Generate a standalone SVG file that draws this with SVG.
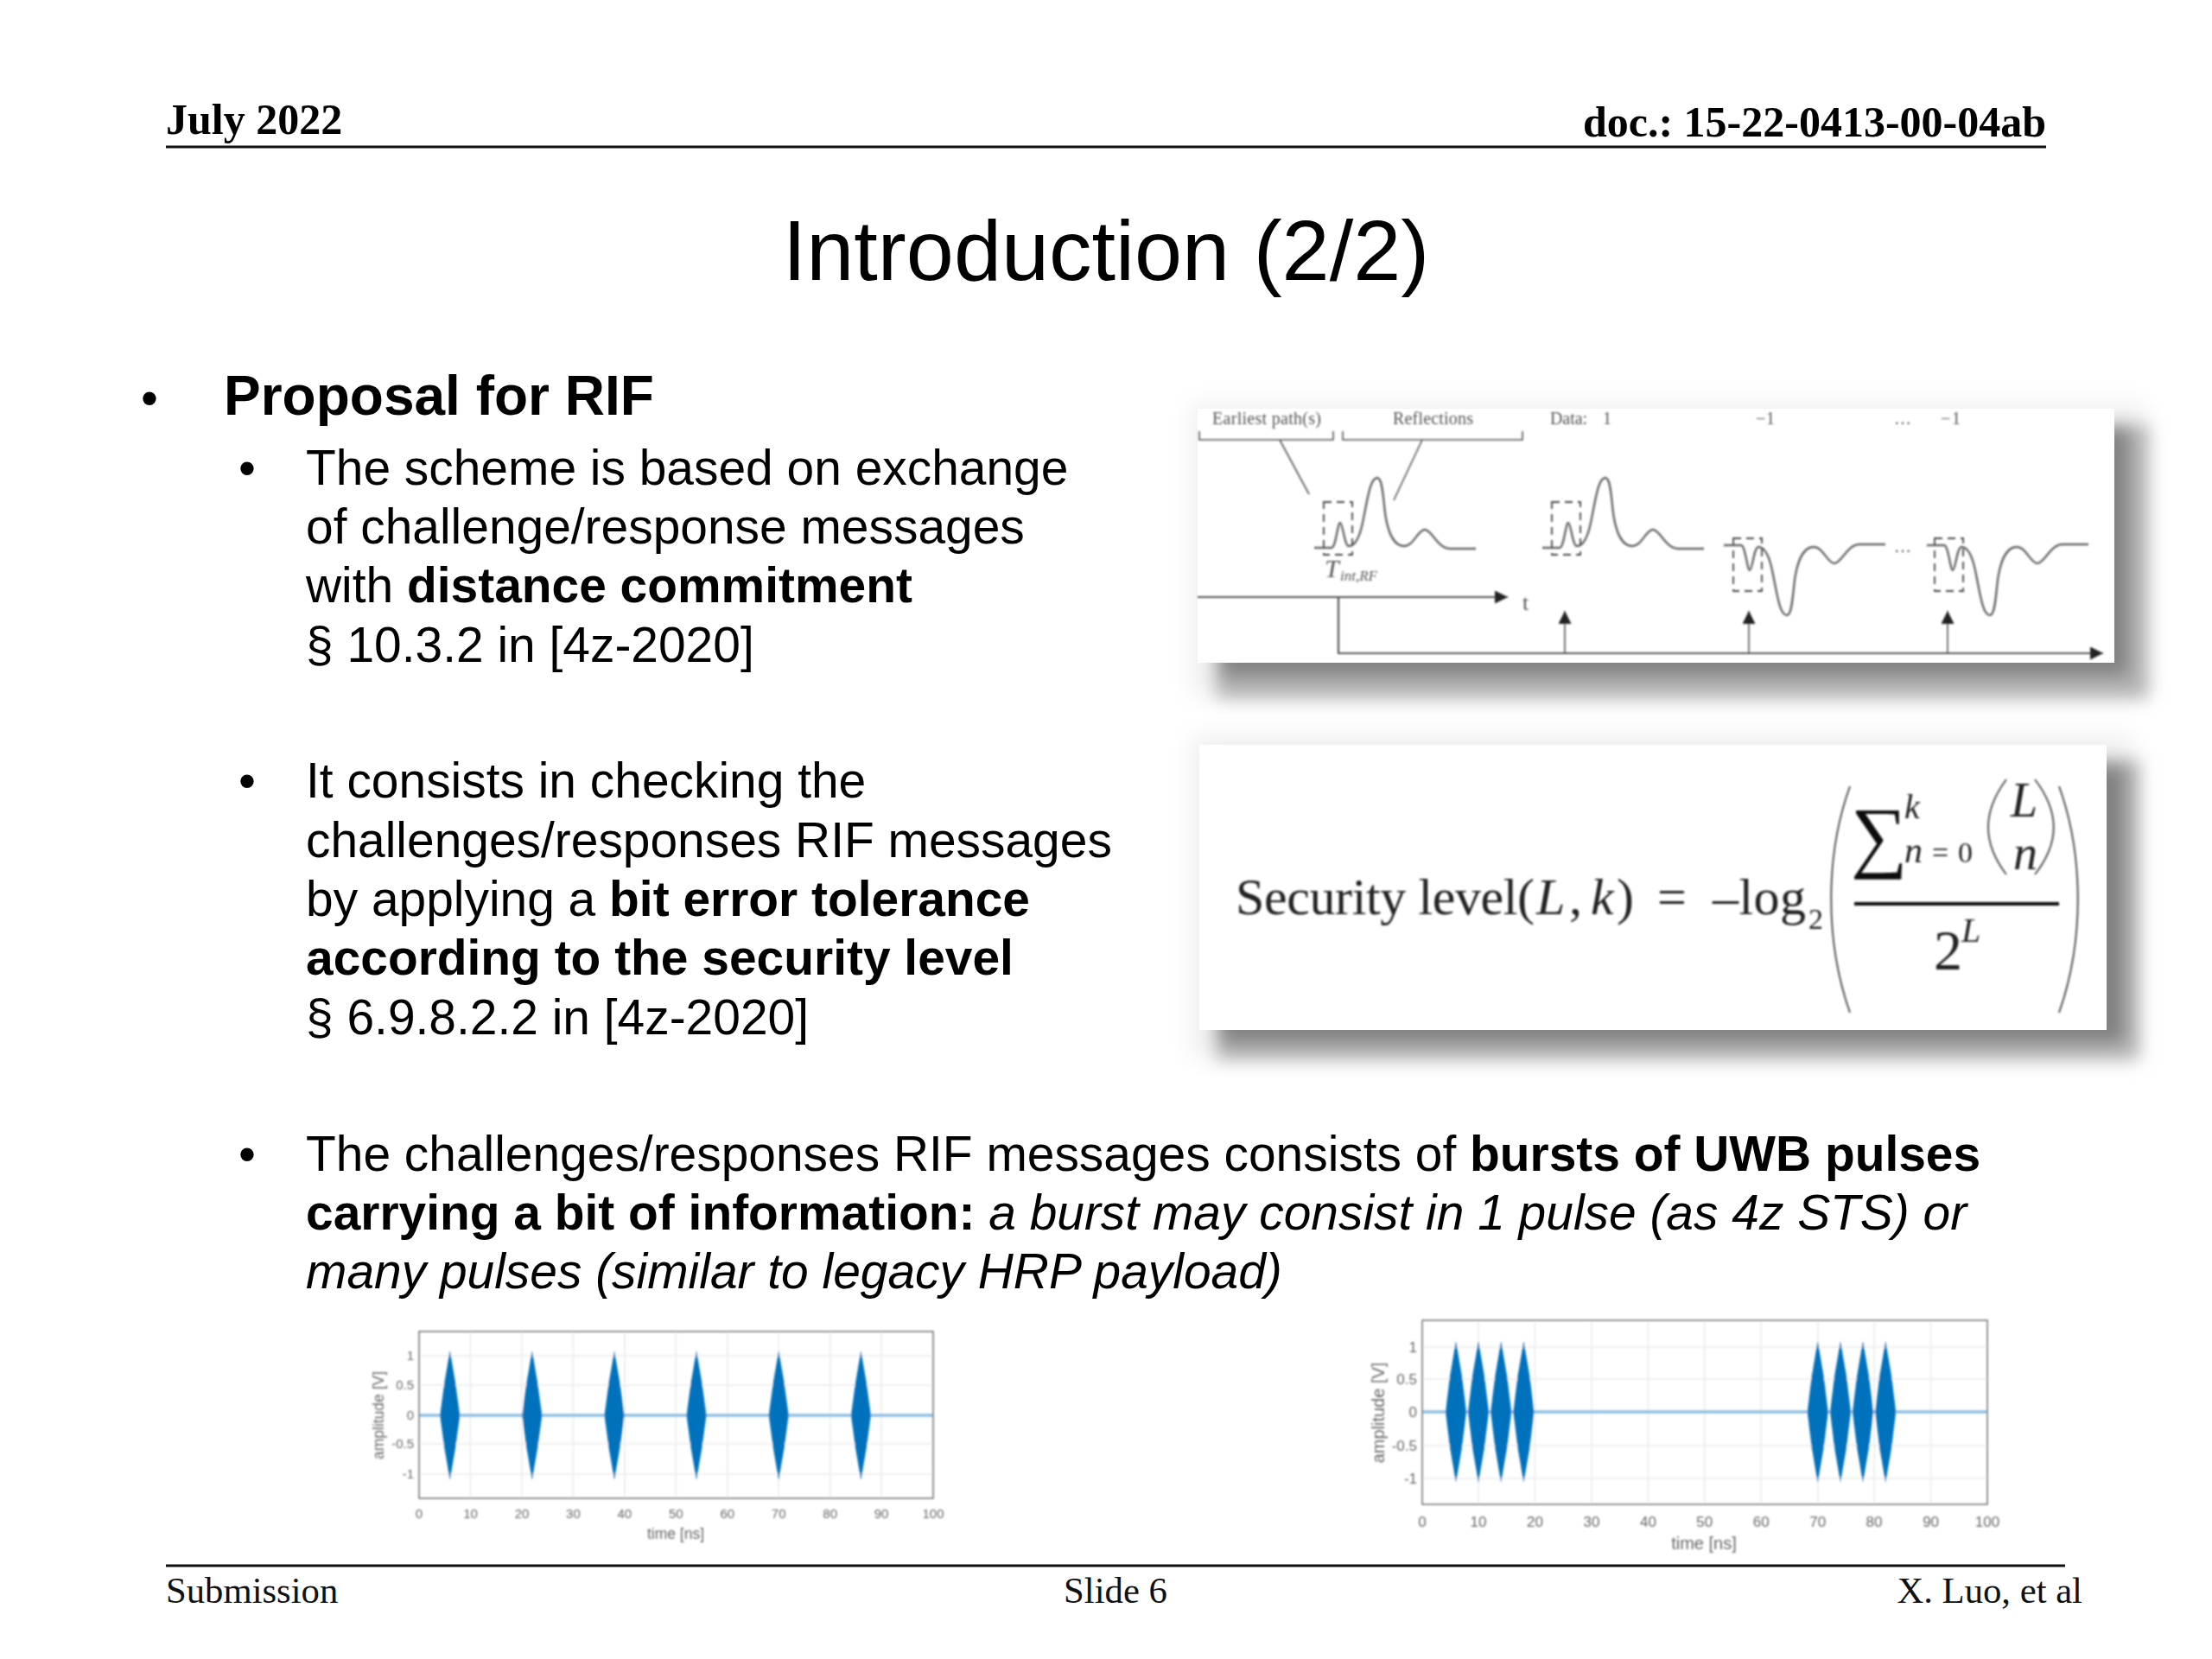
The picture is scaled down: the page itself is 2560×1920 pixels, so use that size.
<svg xmlns="http://www.w3.org/2000/svg" xmlns:xlink="http://www.w3.org/1999/xlink" width="2560" height="1920" viewBox="0 0 2560 1920">
<style>
.h{font-family:"Liberation Serif",serif;font-weight:bold;font-size:50px;fill:#000}
.f{font-family:"Liberation Serif",serif;font-size:42.7px;fill:#111}
.t{font-family:"Liberation Sans",sans-serif;font-size:56.9px;fill:#000}
.b{font-weight:bold}.i{font-style:italic}
.s{font-family:"Liberation Serif",serif;fill:#555;font-size:20px}
.e{font-family:"Liberation Serif",serif;fill:#222;font-size:60px}
.ei{font-style:italic}
.w{fill:none;stroke:#666;stroke-width:2.4}
.l{fill:none;stroke:#555;stroke-width:1.6}
.d{fill:none;stroke:#444;stroke-width:1.8;stroke-dasharray:9 6}
.a{fill:none;stroke:#555;stroke-width:2.2}
.p{font-family:"Liberation Sans",sans-serif;fill:#666}
.g{stroke:#ebebeb;stroke-width:1.6}
.fr{fill:none;stroke:#808080;stroke-width:1.7}
.pu{fill:#0072bd}
.z{stroke:#8cbfe2;stroke-width:3.5}
</style>
<defs>
<filter id="sh0" x="-10%" y="-20%" width="120%" height="140%"><feGaussianBlur stdDeviation="14"/></filter>
<filter id="sh" x="-10%" y="-20%" width="120%" height="140%"><feGaussianBlur stdDeviation="10"/></filter>
<filter id="bl" x="-5%" y="-5%" width="110%" height="110%"><feGaussianBlur stdDeviation="0.9"/></filter>
<filter id="bp" x="-5%" y="-5%" width="110%" height="110%"><feGaussianBlur stdDeviation="1.2"/></filter>
<path id="wave" d="M1521 634L1541 634C1546 634 1548 605 1551 605C1554 605 1556 632 1561 632C1568 632 1574 622 1578 600C1583 575 1586 553 1594 553C1601 553 1601 585 1604 600C1608 622 1616 632 1625 632C1636 632 1641 613 1649 613C1657 613 1664 635 1678 635L1708 635"/>
<polygon id="d1" points="0,-75 6.5,-37 11.5,0 6.5,37 0,75 -6.5,37 -11.5,0 -6.5,-37"/>
<polygon id="d2" points="0,-82 7,-41 12,0 7,41 0,82 -7,41 -12,0 -7,-41"/>
<marker id="ah" viewBox="0 0 14 14" markerWidth="15" markerHeight="15" refX="14" refY="7" orient="auto" markerUnits="userSpaceOnUse"><path d="M0 0L14 7L0 14Z" fill="#222"/></marker>
</defs>
<rect width="2560" height="1920" fill="#fff"/>

<g id="header">
<text class="h" x="192" y="155">July 2022</text>
<text class="h" x="2368" y="158" text-anchor="end">doc.: 15-22-0413-00-04ab</text>
<line x1="192" y1="170" x2="2368" y2="170" stroke="#111" stroke-width="3"/>
</g>
<text id="title" x="1280" y="324" text-anchor="middle" font-family="Liberation Sans, sans-serif" font-size="99" fill="#000">Introduction (2/2)</text>

<g id="body">
<text class="t" x="163" y="480">•</text>
<text class="t b" x="259" y="480" style="font-size:64px">Proposal for RIF</text>
<text class="t" x="276" y="561">•</text>
<text class="t" x="354" y="561">The scheme is based on exchange</text>
<text class="t" x="354" y="629">of challenge/response messages</text>
<text class="t" x="354" y="697">with <tspan class="b">distance commitment</tspan></text>
<text class="t" x="354" y="766">§ 10.3.2 in [4z-2020]</text>
<text class="t" x="276" y="923">•</text>
<text class="t" x="354" y="923">It consists in checking the</text>
<text class="t" x="354" y="992">challenges/responses RIF messages</text>
<text class="t" x="354" y="1060">by applying a <tspan class="b">bit error tolerance</tspan></text>
<text class="t b" x="354" y="1128">according to the security level</text>
<text class="t" x="354" y="1197">§ 6.9.8.2.2 in [4z-2020]</text>
<text class="t" x="276" y="1355">•</text>
<text class="t" x="354" y="1355">The challenges/responses RIF messages consists of <tspan class="b">bursts of UWB pulses</tspan></text>
<text class="t" x="354" y="1423"><tspan class="b">carrying a bit of information:</tspan> <tspan class="i">a burst may consist in 1 pulse (as 4z STS) or</tspan></text>
<text class="t i" x="354" y="1491">many pulses (similar to legacy HRP payload)</text>
</g>

<g id="panel-channel">
<rect x="1378" y="466" width="1105" height="340" fill="#000" opacity=".06" filter="url(#sh0)"/>
<rect x="1408" y="492" width="1078" height="316" fill="#b4b4b4" filter="url(#sh)"/>
<rect x="1415" y="498" width="1048" height="284" fill="#808080" filter="url(#sh)"/>
<rect x="1386" y="473" width="1061" height="294" fill="#fff"/>
<g filter="url(#bl)">
<text class="s" x="1403" y="491" textLength="126">Earliest path(s)</text>
<text class="s" x="1612" y="491" textLength="93">Reflections</text>
<text class="s" x="1794" y="491" textLength="43">Data:</text>
<text class="s" x="1855" y="491">1</text>
<text class="s" x="2032" y="491" textLength="22">−1</text>
<text class="s" x="2192" y="491" textLength="25">…</text>
<text class="s" x="2246" y="491" textLength="23">−1</text>
<path class="l" d="M1388 499V509H1543V499M1554 499V509H1762V499M1481 509L1515 572M1646 509L1613 579"/>
<use xlink:href="#wave" href="#wave" class="w"/>
<use xlink:href="#wave" href="#wave" class="w" transform="translate(264,0)"/>
<use xlink:href="#wave" href="#wave" class="w" transform="translate(474,1265) scale(1,-1)"/>
<use xlink:href="#wave" href="#wave" class="w" transform="translate(709,1265) scale(1,-1)"/>
<rect class="d" x="1532" y="581" width="33" height="61"/>
<rect class="d" x="1796" y="581" width="33" height="61"/>
<rect class="d" x="2006" y="623" width="33" height="61"/>
<rect class="d" x="2239" y="623" width="33" height="61"/>
<text class="s" x="2192" y="639" textLength="25">…</text>
<text class="s ei" x="1533" y="668" style="font-size:30px">T</text>
<text class="s ei" x="1551" y="672" textLength="43" style="font-size:17px">int,RF</text>
<text class="s" x="1762" y="706" style="font-size:26px">t</text>
<path class="a" marker-end="url(#ah)" d="M1386 691H1745"/>
<path class="a" marker-end="url(#ah)" d="M1549 691V756H2434"/>
<path class="l" marker-end="url(#ah)" d="M1811 756V707"/>
<path class="l" marker-end="url(#ah)" d="M2024 756V707"/>
<path class="l" marker-end="url(#ah)" d="M2254 756V707"/>
</g>
</g>

<g id="panel-equation">
<rect x="1378" y="850" width="1090" height="375" fill="#000" opacity=".06" filter="url(#sh0)"/>
<rect x="1408" y="880" width="1068" height="346" fill="#b4b4b4" filter="url(#sh)"/>
<rect x="1415" y="888" width="1043" height="318" fill="#808080" filter="url(#sh)"/>
<rect x="1388" y="862" width="1050" height="330" fill="#fff"/>
<g filter="url(#bl)">
<text class="e" x="1430" y="1058" textLength="346">Security level(</text>
<text class="e ei" x="1778" y="1058">L</text>
<text class="e" x="1816" y="1058">,</text>
<text class="e ei" x="1841" y="1058">k</text>
<text class="e" x="1871" y="1058">)</text>
<text class="e" x="1918" y="1058">=</text>
<text class="e" x="1982" y="1058" textLength="108">–log</text>
<text class="e" x="2093" y="1075" style="font-size:34px">2</text>
<path class="a" style="stroke-width:2" d="M2141 910C2112 990 2112 1090 2141 1172M2383 910C2412 990 2412 1090 2383 1172"/>
<text class="e" x="2142" y="998" style="font-size:92px;fill:#111">∑</text>
<text class="e ei" x="2204" y="947" style="font-size:40px">k</text>
<text class="e ei" x="2204" y="998" style="font-size:42px">n</text>
<text class="e" x="2236" y="998" style="font-size:34px">=</text>
<text class="e" x="2266" y="998" style="font-size:34px">0</text>
<path class="a" style="stroke-width:2" d="M2322 902C2294 940 2294 975 2322 1012M2355 902C2384 940 2384 975 2355 1012"/>
<text class="e ei" x="2327" y="945" style="font-size:56px">L</text>
<text class="e ei" x="2330" y="1006" style="font-size:56px">n</text>
<line x1="2146" y1="1046" x2="2383" y2="1046" stroke="#111" stroke-width="4"/>
<text class="e" x="2238" y="1122" style="font-size:66px">2</text>
<text class="e ei" x="2270" y="1090" style="font-size:40px">L</text>
</g>
</g>

<g id="plot-left" filter="url(#bp)">
<path class="g" d="M544.5 1541V1734M604 1541V1734M663.4 1541V1734M722.8 1541V1734M782.3 1541V1734M841.8 1541V1734M901.2 1541V1734M960.7 1541V1734M1020.1 1541V1734M485 1569H1080M485 1603H1080M485 1671H1080M485 1706H1080"/>
<line class="z" x1="485" y1="1638" x2="1080" y2="1638"/>
<use href="#d1" class="pu" x="520.7" y="1638"/><use href="#d1" class="pu" x="615.8" y="1638"/><use href="#d1" class="pu" x="711" y="1638"/><use href="#d1" class="pu" x="806" y="1638"/><use href="#d1" class="pu" x="901.2" y="1638"/><use href="#d1" class="pu" x="996.4" y="1638"/>
<rect class="fr" x="485" y="1541" width="595" height="193"/>
<g class="p" font-size="15" text-anchor="middle">
<text x="485" y="1757">0</text><text x="544.5" y="1757">10</text><text x="604" y="1757">20</text><text x="663.4" y="1757">30</text><text x="722.8" y="1757">40</text><text x="782.3" y="1757">50</text><text x="841.8" y="1757">60</text><text x="901.2" y="1757">70</text><text x="960.7" y="1757">80</text><text x="1020.1" y="1757">90</text><text x="1080" y="1757">100</text>
<text x="782" y="1781" font-size="17.5">time [ns]</text>
<text transform="translate(444,1638) rotate(-90)" font-size="17.5">amplitude [V]</text>
</g>
<g class="p" font-size="15" text-anchor="end">
<text x="479" y="1574">1</text><text x="479" y="1608">0.5</text><text x="479" y="1643">0</text><text x="479" y="1676">-0.5</text><text x="479" y="1711">-1</text>
</g>
</g>

<g id="plot-right" filter="url(#bp)">
<path class="g" d="M1711 1528V1741M1776.5 1528V1741M1842 1528V1741M1907.4 1528V1741M1972.8 1528V1741M2038.2 1528V1741M2103.7 1528V1741M2169 1528V1741M2234.6 1528V1741M1646 1559H2300M1646 1596H2300M1646 1673H2300M1646 1711H2300"/>
<line class="z" x1="1646" y1="1634" x2="2300" y2="1634"/>
<use href="#d2" class="pu" x="1685" y="1634"/><use href="#d2" class="pu" x="1711" y="1634"/><use href="#d2" class="pu" x="1737.2" y="1634"/><use href="#d2" class="pu" x="1763.4" y="1634"/><use href="#d2" class="pu" x="2103.7" y="1634"/><use href="#d2" class="pu" x="2130" y="1634"/><use href="#d2" class="pu" x="2156" y="1634"/><use href="#d2" class="pu" x="2182.2" y="1634"/>
<rect class="fr" x="1646" y="1528" width="654" height="213"/>
<g class="p" font-size="17" text-anchor="middle">
<text x="1646" y="1767">0</text><text x="1711" y="1767">10</text><text x="1776.5" y="1767">20</text><text x="1842" y="1767">30</text><text x="1907.4" y="1767">40</text><text x="1972.8" y="1767">50</text><text x="2038.2" y="1767">60</text><text x="2103.7" y="1767">70</text><text x="2169" y="1767">80</text><text x="2234.6" y="1767">90</text><text x="2300" y="1767">100</text>
<text x="1972" y="1793" font-size="20">time [ns]</text>
<text transform="translate(1602,1635) rotate(-90)" font-size="20">amplitude [V]</text>
</g>
<g class="p" font-size="17" text-anchor="end">
<text x="1640" y="1565">1</text><text x="1640" y="1602">0.5</text><text x="1640" y="1640">0</text><text x="1640" y="1679">-0.5</text><text x="1640" y="1717">-1</text>
</g>
</g>

<g id="footer">
<line x1="192" y1="1812" x2="2390" y2="1812" stroke="#111" stroke-width="3"/>
<text class="f" x="192" y="1855">Submission</text>
<text class="f" x="1291" y="1855" text-anchor="middle">Slide 6</text>
<text class="f" x="2410" y="1855" text-anchor="end">X. Luo, et al</text>
</g>
</svg>
